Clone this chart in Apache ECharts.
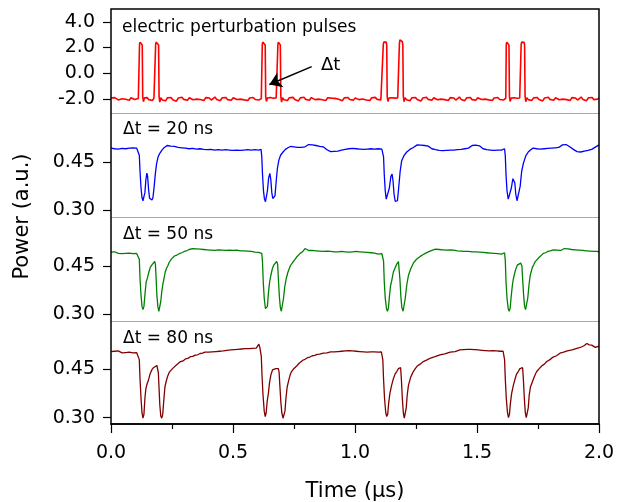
<!DOCTYPE html>
<html>
<head>
<meta charset="utf-8">
<script src="https://cdn.jsdelivr.net/npm/echarts@6/dist/echarts.min.js"></script>
<style>html,body{margin:0;padding:0;background:#fff}#c{width:618px;height:502px}</style>
</head>
<body>
<div id="c"></div>
<script>
// ---------------- DATA ----------------
const panelLabels = ['electric perturbation pulses', '\u0394t = 20 ns', '\u0394t = 50 ns', '\u0394t = 80 ns'];
const arrowLabel = '\u0394t';
const xName = 'Time (\u00b5s)';
const yName = 'Power (a.u.)';
const pulseTicks = [-2, 0, 2, 4];
const powerTicks = [0.30, 0.45];
const colors = ['#ff0000', '#0000ff', '#008000', '#800000'];
const arrowFrom = [0.8225, 0.51];
const arrowTo = [0.649, -0.88];

const pulseData = [
[0,-1.93],[0.008,-2.02],[0.015,-1.90],[0.022,-1.98],[0.030,-2.08],[0.037,-1.94],[0.045,-1.99],[0.052,-1.88],[0.060,-2.03],[0.067,-1.96],[0.075,-2.10],[0.082,-1.92],[0.090,-1.98],[0.097,-2.05],[0.105,-1.93],[0.112,-1.97],
[0.115,-1.95],[0.117,2.25],[0.119,2.42],[0.126,2.42],[0.128,2.2],[0.130,-1.85],[0.133,-2.22],[0.137,-1.92],[0.142,-2.04],[0.148,-1.90],[0.155,-2.06],[0.162,-1.95],[0.170,-2.12],[0.176,-1.94],[0.179,-1.98],
[0.181,-1.95],[0.183,2.25],[0.185,2.42],[0.193,2.40],[0.195,2.2],[0.197,-1.8],[0.200,-2.25],[0.204,-1.90],[0.210,-2.08],[0.217,-1.95],[0.224,-2.15],[0.231,-1.92],[0.238,-2.03],[0.246,-1.89],[0.253,-2.06],[0.261,-1.96],[0.268,-2.18],[0.276,-1.93],[0.283,-2.00],[0.291,-1.87],[0.298,-2.04],[0.306,-1.95],[0.313,-2.10],[0.321,-1.91],[0.328,-1.99],[0.336,-2.07],[0.343,-1.92],[0.351,-2.02],[0.358,-1.88],[0.366,-2.05],[0.373,-1.96],[0.381,-2.13],[0.388,-1.90],[0.396,-2.01],[0.403,-1.93],[0.411,-2.09],[0.418,-1.95],[0.426,-1.86],[0.433,-2.04],[0.441,-1.97],[0.448,-2.14],[0.456,-1.91],[0.463,-2.00],[0.471,-1.89],[0.478,-2.06],[0.486,-1.94],[0.493,-2.11],[0.501,-1.92],[0.508,-1.99],[0.516,-2.05],[0.523,-1.90],[0.531,-2.02],[0.538,-1.87],[0.546,-2.08],[0.553,-1.95],[0.561,-2.12],[0.568,-1.93],[0.576,-2.00],[0.583,-1.89],[0.591,-2.05],[0.598,-1.96],[0.606,-2.09],[0.613,-1.94],[0.616,-1.98],
[0.618,-1.95],[0.620,2.25],[0.622,2.42],[0.630,2.42],[0.632,2.2],[0.634,-1.85],[0.637,-2.2],[0.641,-1.93],[0.647,-2.06],[0.653,-1.90],[0.659,-2.03],[0.665,-1.95],[0.671,-2.10],[0.677,-1.92],[0.681,-1.98],
[0.682,-1.95],[0.684,2.25],[0.686,2.42],[0.692,2.40],[0.694,2.2],[0.696,-1.8],[0.699,-2.25],[0.703,-1.90],[0.709,-2.07],[0.716,-1.94],[0.723,-2.12],[0.731,-1.91],[0.738,-2.02],[0.746,-1.88],[0.753,-2.05],[0.761,-1.95],[0.768,-2.16],[0.776,-1.92],[0.783,-2.00],[0.791,-1.87],[0.798,-2.04],[0.806,-1.94],[0.813,-2.11],[0.821,-1.90],[0.828,-1.99],[0.836,-2.06],[0.843,-1.93],[0.851,-2.02],[0.858,-1.88],[0.866,-2.07],[0.873,-1.95],[0.881,-2.12],[0.888,-1.91],[0.896,-2.01],[0.903,-1.94],[0.911,-2.08],[0.918,-1.96],[0.926,-1.87],[0.933,-2.03],[0.941,-1.97],[0.948,-2.15],[0.956,-1.92],[0.963,-2.00],[0.971,-1.89],[0.978,-2.05],[0.986,-1.95],[0.993,-2.10],[1.001,-1.93],[1.008,-1.99],[1.016,-2.06],[1.023,-1.91],[1.031,-2.01],[1.038,-1.86],[1.046,-2.09],[1.053,-1.95],[1.061,-2.13],[1.068,-1.92],[1.076,-2.00],[1.083,-1.88],[1.091,-2.04],[1.098,-1.96],[1.106,-2.08],[1.112,-1.97],
[1.114,-1.95],[1.116,2.25],[1.118,2.42],[1.128,2.42],[1.130,2.2],[1.132,-1.85],[1.135,-2.2],[1.139,-1.93],[1.145,-2.05],[1.151,-1.91],[1.157,-2.04],[1.163,-1.94],[1.169,-2.09],[1.175,-1.93],[1.179,-1.98],
[1.180,-1.95],[1.182,2.3],[1.184,2.6],[1.186,2.55],[1.194,2.45],[1.196,2.2],[1.198,-1.8],[1.201,-2.22],[1.205,-1.90],[1.211,-2.06],[1.218,-1.95],[1.225,-2.14],[1.233,-1.92],[1.240,-2.02],[1.248,-1.89],[1.255,-2.05],[1.263,-1.96],[1.270,-2.17],[1.278,-1.93],[1.285,-2.00],[1.293,-1.88],[1.300,-2.04],[1.308,-1.95],[1.315,-2.10],[1.323,-1.91],[1.330,-1.99],[1.338,-2.07],[1.345,-1.92],[1.353,-2.02],[1.360,-1.87],[1.368,-2.06],[1.375,-1.96],[1.383,-2.12],[1.390,-1.90],[1.398,-2.01],[1.405,-1.93],[1.413,-2.09],[1.420,-1.95],[1.428,-1.86],[1.435,-2.04],[1.443,-1.97],[1.450,-2.14],[1.458,-1.91],[1.465,-2.00],[1.473,-1.89],[1.480,-2.06],[1.488,-1.94],[1.495,-2.11],[1.503,-1.92],[1.510,-1.99],[1.518,-2.05],[1.525,-1.90],[1.533,-2.02],[1.540,-1.87],[1.548,-2.08],[1.555,-1.95],[1.563,-2.12],[1.570,-1.93],[1.578,-2.00],[1.585,-1.89],[1.593,-2.05],[1.600,-1.96],[1.608,-2.09],[1.615,-1.97],
[1.618,-1.95],[1.620,2.25],[1.622,2.42],[1.629,2.42],[1.631,2.2],[1.633,-1.85],[1.636,-2.2],[1.640,-1.93],[1.646,-2.05],[1.652,-1.91],[1.658,-2.03],[1.664,-1.95],[1.670,-2.10],[1.675,-1.93],[1.678,-1.98],
[1.679,-1.95],[1.681,2.25],[1.683,2.42],[1.693,2.40],[1.695,2.2],[1.697,-1.8],[1.700,-2.22],[1.704,-1.90],[1.710,-2.06],[1.717,-1.95],[1.724,-2.13],[1.732,-1.92],[1.739,-2.02],[1.747,-1.89],[1.754,-2.05],[1.762,-1.96],[1.769,-2.16],[1.777,-1.93],[1.784,-2.00],[1.792,-1.88],[1.799,-2.04],[1.807,-1.95],[1.814,-2.10],[1.822,-1.91],[1.829,-1.99],[1.837,-2.07],[1.844,-1.92],[1.852,-2.02],[1.859,-1.87],[1.867,-2.06],[1.874,-1.96],[1.882,-2.12],[1.889,-1.90],[1.897,-2.01],[1.904,-1.93],[1.912,-2.09],[1.919,-1.95],[1.927,-1.86],[1.934,-2.04],[1.942,-1.97],[1.949,-2.14],[1.957,-1.91],[1.964,-2.00],[1.972,-1.89],[1.979,-2.06],[1.987,-1.94],[1.994,-2.02],[2.000,-1.93]
];

const dt20Data = [
[0.000,0.492],[0.008,0.488],[0.015,0.490],[0.023,0.485],[0.030,0.489],[0.038,0.486],[0.045,0.491],[0.053,0.487],[0.060,0.490],[0.068,0.488],[0.075,0.492],[0.083,0.489],[0.090,0.493],[0.098,0.490],[0.105,0.492],[0.110,0.491],
[0.113,0.490],[0.116,0.470],[0.119,0.420],[0.123,0.370],[0.127,0.340],[0.131,0.330],[0.135,0.333],[0.139,0.355],[0.143,0.395],[0.147,0.415],[0.150,0.405],[0.154,0.365],[0.158,0.338],[0.163,0.333],[0.168,0.332],[0.172,0.340],[0.177,0.375],[0.182,0.415],[0.187,0.445],[0.193,0.465],[0.200,0.476],[0.208,0.485],[0.216,0.492],[0.222,0.497],
[0.230,0.500],[0.237,0.504],[0.245,0.498],[0.252,0.502],[0.260,0.497],[0.268,0.500],[0.275,0.494],[0.283,0.498],[0.290,0.493],[0.298,0.497],[0.305,0.492],[0.313,0.495],[0.320,0.490],[0.328,0.494],[0.335,0.491],[0.343,0.495],[0.350,0.489],[0.358,0.493],[0.365,0.490],[0.373,0.494],[0.380,0.488],[0.388,0.492],[0.395,0.487],[0.403,0.491],[0.410,0.488],[0.418,0.492],[0.425,0.486],[0.433,0.490],[0.440,0.487],[0.448,0.491],[0.455,0.486],[0.463,0.490],[0.470,0.487],[0.478,0.491],[0.485,0.486],[0.493,0.489],[0.500,0.485],[0.508,0.489],[0.515,0.486],[0.523,0.490],[0.530,0.485],[0.538,0.489],[0.545,0.486],[0.553,0.490],[0.560,0.487],[0.568,0.491],[0.575,0.486],[0.583,0.490],[0.590,0.487],[0.598,0.490],[0.605,0.486],[0.612,0.489],
[0.615,0.488],[0.618,0.465],[0.621,0.410],[0.625,0.360],[0.629,0.335],[0.633,0.327],[0.637,0.332],[0.641,0.360],[0.646,0.400],[0.651,0.414],[0.655,0.395],[0.659,0.355],[0.663,0.337],[0.668,0.332],[0.672,0.345],[0.677,0.390],[0.682,0.430],[0.688,0.455],[0.695,0.470],[0.705,0.480],[0.715,0.488],[0.725,0.493],
[0.735,0.497],[0.743,0.500],[0.750,0.496],[0.758,0.499],[0.765,0.494],[0.773,0.491],[0.780,0.494],[0.788,0.490],[0.795,0.496],[0.803,0.500],[0.810,0.503],[0.818,0.507],[0.825,0.502],[0.833,0.505],[0.840,0.500],[0.848,0.503],[0.855,0.497],[0.863,0.494],[0.870,0.496],[0.878,0.490],[0.885,0.487],[0.893,0.484],[0.900,0.481],[0.908,0.479],[0.915,0.482],[0.923,0.478],[0.930,0.483],[0.938,0.481],[0.945,0.486],[0.953,0.483],[0.960,0.488],[0.968,0.485],[0.975,0.490],[0.983,0.487],[0.990,0.491],[0.998,0.486],[1.005,0.490],[1.013,0.487],[1.020,0.489],[1.028,0.484],[1.035,0.488],[1.043,0.485],[1.050,0.489],[1.058,0.486],[1.065,0.490],[1.073,0.485],[1.080,0.489],[1.088,0.486],[1.095,0.490],[1.103,0.486],[1.110,0.489],
[1.114,0.488],[1.117,0.465],[1.120,0.410],[1.124,0.360],[1.128,0.335],[1.132,0.330],[1.136,0.335],[1.141,0.370],[1.147,0.405],[1.152,0.412],[1.156,0.390],[1.160,0.350],[1.165,0.328],[1.170,0.323],[1.174,0.330],[1.179,0.370],[1.185,0.420],[1.191,0.452],[1.200,0.468],[1.212,0.480],[1.225,0.488],[1.239,0.494],
[1.247,0.498],[1.255,0.502],[1.262,0.497],[1.270,0.501],[1.278,0.496],[1.285,0.500],[1.293,0.495],[1.300,0.498],[1.308,0.493],[1.315,0.490],[1.323,0.492],[1.330,0.487],[1.338,0.490],[1.345,0.485],[1.353,0.488],[1.360,0.484],[1.368,0.489],[1.375,0.485],[1.383,0.489],[1.390,0.486],[1.398,0.490],[1.405,0.486],[1.413,0.491],[1.420,0.487],[1.428,0.492],[1.435,0.488],[1.443,0.493],[1.450,0.490],[1.458,0.495],[1.465,0.492],[1.473,0.497],[1.480,0.500],[1.488,0.497],[1.495,0.501],[1.503,0.496],[1.510,0.499],[1.518,0.493],[1.525,0.490],[1.533,0.492],[1.540,0.487],[1.548,0.490],[1.555,0.486],[1.563,0.489],[1.570,0.485],[1.578,0.489],[1.585,0.486],[1.593,0.490],[1.600,0.486],[1.608,0.489],
[1.613,0.490],[1.616,0.468],[1.619,0.410],[1.623,0.360],[1.628,0.335],[1.632,0.331],[1.636,0.336],[1.641,0.370],[1.647,0.398],[1.651,0.403],[1.655,0.385],[1.659,0.350],[1.664,0.330],[1.668,0.326],[1.672,0.335],[1.677,0.375],[1.683,0.420],[1.690,0.445],[1.700,0.468],[1.710,0.480],[1.720,0.487],[1.730,0.492],
[1.738,0.494],[1.745,0.490],[1.753,0.494],[1.760,0.489],[1.768,0.493],[1.775,0.490],[1.783,0.494],[1.790,0.491],[1.798,0.495],[1.805,0.492],[1.813,0.496],[1.820,0.493],[1.828,0.497],[1.835,0.494],[1.843,0.499],[1.850,0.502],[1.858,0.506],[1.865,0.503],[1.873,0.499],[1.880,0.496],[1.888,0.492],[1.895,0.488],[1.903,0.484],[1.910,0.481],[1.918,0.483],[1.925,0.480],[1.933,0.485],[1.940,0.483],[1.948,0.487],[1.955,0.485],[1.963,0.490],[1.970,0.488],[1.978,0.493],[1.985,0.495],[1.993,0.499],[2.000,0.502]
];

const dt50Data = [
[0.000,0.492],[0.008,0.489],[0.015,0.493],[0.023,0.490],[0.030,0.488],[0.038,0.491],[0.045,0.487],[0.053,0.490],[0.060,0.488],[0.068,0.492],[0.075,0.489],[0.083,0.491],[0.090,0.487],[0.098,0.490],[0.105,0.488],[0.110,0.490],
[0.113,0.490],[0.116,0.470],[0.119,0.410],[0.123,0.360],[0.127,0.325],[0.131,0.315],[0.135,0.325],[0.139,0.360],[0.144,0.400],[0.149,0.412],[0.155,0.430],[0.161,0.445],[0.167,0.452],[0.173,0.458],[0.179,0.463],[0.182,0.455],[0.185,0.410],[0.188,0.360],[0.192,0.325],[0.196,0.310],[0.200,0.315],[0.204,0.340],[0.208,0.370],[0.213,0.395],[0.217,0.410],[0.222,0.430],[0.228,0.443],[0.233,0.450],[0.238,0.460],[0.244,0.466],[0.249,0.472],[0.255,0.476],[0.260,0.480],[0.265,0.478],[0.270,0.483],[0.280,0.487],[0.290,0.490],[0.300,0.494],[0.310,0.496],[0.320,0.500],[0.328,0.498],[0.335,0.503],
[0.343,0.499],[0.350,0.502],[0.358,0.498],[0.365,0.501],[0.373,0.497],[0.380,0.500],[0.388,0.496],[0.395,0.499],[0.403,0.495],[0.410,0.498],[0.418,0.494],[0.425,0.497],[0.433,0.495],[0.440,0.499],[0.448,0.496],[0.455,0.498],[0.463,0.494],[0.470,0.497],[0.478,0.495],[0.485,0.498],[0.493,0.494],[0.500,0.497],[0.508,0.495],[0.515,0.498],[0.523,0.494],[0.530,0.496],[0.538,0.493],[0.545,0.496],[0.553,0.492],[0.560,0.495],[0.568,0.491],[0.575,0.494],[0.583,0.490],[0.590,0.492],[0.598,0.488],[0.605,0.491],[0.612,0.487],
[0.618,0.488],[0.621,0.460],[0.624,0.400],[0.628,0.350],[0.633,0.318],[0.637,0.312],[0.641,0.325],[0.645,0.365],[0.650,0.400],[0.655,0.420],[0.661,0.440],[0.667,0.452],[0.673,0.458],[0.679,0.463],[0.683,0.455],[0.686,0.410],[0.690,0.355],[0.694,0.322],[0.698,0.310],[0.702,0.316],[0.707,0.350],[0.712,0.385],[0.718,0.410],[0.725,0.430],[0.730,0.440],[0.735,0.450],[0.741,0.456],[0.747,0.463],[0.753,0.468],[0.760,0.476],[0.767,0.480],[0.775,0.488],[0.785,0.493],[0.795,0.503],
[0.803,0.500],[0.810,0.497],[0.818,0.501],[0.825,0.497],[0.833,0.500],[0.840,0.496],[0.848,0.499],[0.855,0.495],[0.863,0.498],[0.870,0.494],[0.878,0.497],[0.885,0.495],[0.893,0.498],[0.900,0.494],[0.908,0.497],[0.915,0.493],[0.923,0.496],[0.930,0.493],[0.938,0.497],[0.945,0.494],[0.953,0.497],[0.960,0.493],[0.968,0.496],[0.975,0.492],[0.983,0.496],[0.990,0.493],[0.998,0.497],[1.005,0.494],[1.013,0.497],[1.020,0.493],[1.028,0.496],[1.035,0.492],[1.043,0.495],[1.050,0.491],[1.058,0.494],[1.065,0.490],[1.073,0.493],[1.080,0.489],[1.088,0.491],[1.095,0.486],[1.103,0.489],[1.110,0.487],
[1.114,0.490],[1.117,0.465],[1.120,0.400],[1.124,0.350],[1.129,0.318],[1.133,0.310],[1.137,0.320],[1.141,0.355],[1.146,0.390],[1.150,0.402],[1.157,0.430],[1.164,0.443],[1.171,0.455],[1.178,0.463],[1.181,0.458],[1.184,0.410],[1.188,0.355],[1.192,0.322],[1.197,0.310],[1.201,0.315],[1.206,0.350],[1.212,0.390],[1.219,0.420],[1.228,0.440],[1.233,0.446],[1.239,0.458],[1.245,0.462],[1.252,0.470],[1.259,0.473],[1.266,0.478],[1.278,0.484],[1.290,0.489],[1.305,0.494],[1.321,0.499],
[1.330,0.501],[1.338,0.497],[1.345,0.500],[1.353,0.496],[1.360,0.499],[1.368,0.495],[1.375,0.498],[1.383,0.502],[1.390,0.499],[1.398,0.503],[1.405,0.498],[1.413,0.500],[1.420,0.496],[1.428,0.499],[1.435,0.495],[1.443,0.498],[1.450,0.494],[1.458,0.497],[1.465,0.494],[1.473,0.497],[1.480,0.493],[1.488,0.496],[1.495,0.493],[1.503,0.496],[1.510,0.492],[1.518,0.495],[1.525,0.491],[1.533,0.494],[1.540,0.490],[1.548,0.493],[1.555,0.489],[1.563,0.492],[1.570,0.488],[1.578,0.491],[1.585,0.487],[1.593,0.490],[1.600,0.486],[1.608,0.489],
[1.613,0.490],[1.616,0.465],[1.619,0.400],[1.623,0.350],[1.628,0.318],[1.632,0.310],[1.636,0.320],[1.640,0.355],[1.645,0.390],[1.649,0.410],[1.657,0.435],[1.665,0.452],[1.672,0.456],[1.679,0.458],[1.684,0.450],[1.687,0.410],[1.691,0.360],[1.695,0.325],[1.699,0.315],[1.703,0.318],[1.708,0.350],[1.713,0.390],[1.718,0.420],[1.727,0.445],[1.732,0.452],[1.738,0.462],[1.746,0.468],[1.755,0.476],[1.763,0.481],[1.772,0.488],[1.781,0.490],[1.790,0.494],[1.800,0.496],[1.813,0.499],
[1.820,0.502],[1.828,0.498],[1.835,0.501],[1.843,0.497],[1.850,0.500],[1.858,0.503],[1.865,0.499],[1.873,0.502],[1.880,0.497],[1.888,0.500],[1.895,0.496],[1.903,0.499],[1.910,0.495],[1.918,0.498],[1.925,0.494],[1.933,0.497],[1.940,0.493],[1.948,0.496],[1.955,0.492],[1.963,0.495],[1.970,0.491],[1.978,0.494],[1.985,0.491],[1.993,0.494],[2.000,0.492]
];

const dt80Data = [
[0.000,0.505],[0.008,0.502],[0.015,0.506],[0.023,0.503],[0.030,0.507],[0.038,0.504],[0.045,0.501],[0.053,0.505],[0.060,0.502],[0.068,0.506],[0.075,0.503],[0.083,0.505],[0.090,0.501],[0.098,0.504],[0.105,0.502],[0.110,0.505],
[0.113,0.505],[0.116,0.480],[0.119,0.420],[0.123,0.360],[0.127,0.315],[0.131,0.298],[0.135,0.310],[0.139,0.360],[0.143,0.390],[0.148,0.405],[0.153,0.415],[0.160,0.435],[0.167,0.448],[0.174,0.455],[0.181,0.460],[0.188,0.462],[0.191,0.458],[0.194,0.440],[0.197,0.390],[0.200,0.340],[0.204,0.305],[0.208,0.298],[0.212,0.310],[0.216,0.350],[0.221,0.395],[0.226,0.412],[0.232,0.428],[0.240,0.442],[0.246,0.446],[0.252,0.452],[0.260,0.458],[0.268,0.463],[0.276,0.466],[0.285,0.474],[0.295,0.476],[0.305,0.482],[0.315,0.484],[0.325,0.489],[0.335,0.490],[0.345,0.494],[0.355,0.495],[0.365,0.499],[0.375,0.500],[0.385,0.503],[0.392,0.505],
[0.400,0.503],[0.408,0.507],[0.415,0.504],[0.423,0.508],[0.430,0.505],[0.438,0.509],[0.445,0.506],[0.453,0.510],[0.460,0.507],[0.468,0.512],[0.475,0.509],[0.483,0.513],[0.490,0.510],[0.498,0.514],[0.505,0.511],[0.513,0.515],[0.520,0.512],[0.528,0.516],[0.535,0.513],[0.543,0.517],[0.550,0.514],[0.558,0.517],[0.565,0.514],[0.573,0.518],[0.580,0.515],[0.588,0.519],[0.595,0.516],[0.602,0.520],[0.606,0.528],[0.610,0.518],
[0.613,0.520],[0.616,0.490],[0.619,0.430],[0.623,0.370],[0.628,0.320],[0.632,0.303],[0.636,0.315],[0.640,0.350],[0.645,0.375],[0.650,0.410],[0.656,0.435],[0.662,0.448],[0.668,0.452],[0.675,0.452],[0.682,0.452],[0.686,0.452],[0.689,0.440],[0.692,0.400],[0.696,0.350],[0.700,0.315],[0.705,0.298],[0.709,0.298],[0.713,0.320],[0.717,0.360],[0.722,0.395],[0.728,0.415],[0.734,0.432],[0.740,0.443],[0.747,0.450],[0.754,0.456],[0.762,0.461],[0.770,0.468],[0.778,0.472],[0.786,0.478],[0.795,0.481],[0.805,0.486],[0.815,0.488],[0.825,0.492],[0.835,0.493],[0.845,0.496],[0.855,0.497],[0.870,0.500],[0.885,0.501],[0.900,0.504],
[0.908,0.507],[0.915,0.504],[0.923,0.508],[0.930,0.505],[0.938,0.509],[0.945,0.506],[0.953,0.510],[0.960,0.507],[0.968,0.511],[0.975,0.508],[0.983,0.511],[0.990,0.507],[0.998,0.510],[1.005,0.506],[1.013,0.509],[1.020,0.505],[1.028,0.508],[1.035,0.504],[1.043,0.507],[1.050,0.503],[1.058,0.507],[1.065,0.504],[1.073,0.508],[1.080,0.504],[1.088,0.507],[1.095,0.503],[1.103,0.506],[1.108,0.504],
[1.111,0.505],[1.114,0.480],[1.117,0.420],[1.121,0.360],[1.126,0.315],[1.130,0.303],[1.134,0.310],[1.138,0.345],[1.143,0.375],[1.150,0.400],[1.157,0.420],[1.164,0.435],[1.171,0.443],[1.178,0.452],[1.184,0.458],[1.187,0.455],[1.190,0.420],[1.194,0.360],[1.198,0.315],[1.202,0.298],[1.206,0.302],[1.210,0.330],[1.214,0.370],[1.219,0.400],[1.228,0.425],[1.234,0.435],[1.239,0.443],[1.247,0.452],[1.255,0.460],[1.267,0.466],[1.280,0.474],[1.295,0.479],[1.310,0.485],[1.328,0.489],[1.348,0.495],[1.368,0.498],[1.390,0.503],[1.410,0.505],[1.430,0.510],
[1.438,0.507],[1.445,0.511],[1.453,0.508],[1.460,0.512],[1.468,0.509],[1.475,0.512],[1.483,0.508],[1.490,0.511],[1.498,0.507],[1.505,0.510],[1.513,0.506],[1.520,0.509],[1.528,0.505],[1.535,0.508],[1.543,0.504],[1.550,0.507],[1.558,0.504],[1.565,0.508],[1.573,0.504],[1.580,0.507],[1.588,0.503],[1.595,0.506],[1.602,0.504],[1.607,0.506],
[1.610,0.505],[1.613,0.480],[1.616,0.420],[1.620,0.360],[1.625,0.315],[1.629,0.300],[1.633,0.310],[1.637,0.345],[1.642,0.375],[1.649,0.400],[1.656,0.420],[1.662,0.435],[1.669,0.443],[1.676,0.452],[1.683,0.458],[1.687,0.455],[1.690,0.420],[1.694,0.360],[1.698,0.315],[1.702,0.300],[1.706,0.302],[1.710,0.330],[1.714,0.370],[1.719,0.395],[1.724,0.405],[1.734,0.425],[1.740,0.436],[1.745,0.443],[1.755,0.452],[1.765,0.460],[1.776,0.466],[1.786,0.474],[1.799,0.480],[1.812,0.488],[1.826,0.492],[1.840,0.500],[1.855,0.503],[1.870,0.507],[1.890,0.510],[1.909,0.515],[1.920,0.517],[1.930,0.520],[1.940,0.524],[1.950,0.530],[1.960,0.526],[1.970,0.525],[1.978,0.520],[1.985,0.518],[1.993,0.523],[2.000,0.522]
];

// ---------------- LAYOUT ----------------
const FONT = 'DejaVu Sans';
const L = 111, W = 488;
const panelTop = [9, 113, 217, 321];
const panelH = [104, 104, 104, 103];
const seriesData = [pulseData, dt20Data, dt50Data, dt80Data];

const grids = [], xAxes = [], yAxes = [], series = [], titles = [];
for (let i = 0; i < 4; i++) {
  grids.push({ left: L, width: W, top: panelTop[i], height: panelH[i], containLabel: false, outerBoundsMode: 'none' });
  const last = i === 3;
  xAxes.push({
    type: 'value', gridIndex: i, min: 0, max: 2, interval: 0.5,
    axisLine: { show: true, onZero: false, lineStyle: { color: last ? '#000' : '#aaaaaa', width: last ? 1.5 : 1.2 } },
    axisTick: { show: last, inside: false, length: 9, lineStyle: { color: '#000', width: 1.2 } },
    minorTick: { show: last, splitNumber: 2, length: 5, lineStyle: { color: '#000', width: 1.2 } },
    axisLabel: { show: last, margin: 20, fontSize: 19, fontFamily: FONT, color: '#000', formatter: v => v.toFixed(1) },
    splitLine: { show: false },
    name: last ? xName : '', nameLocation: 'middle', nameGap: 57,
    nameTextStyle: { fontSize: 21, fontFamily: FONT, color: '#000' }
  });
  const ticks = i === 0 ? pulseTicks : powerTicks;
  yAxes.push({
    type: 'value', gridIndex: i,
    min: i === 0 ? -3.1 : 0.28, max: i === 0 ? 5.0 : 0.60,
    axisLine: { show: false },
    axisTick: { show: true, inside: false, length: 8, customValues: ticks, lineStyle: { color: '#000', width: 1.2 } },
    axisLabel: { show: true, margin: 16, fontSize: 19, fontFamily: FONT, color: '#000', customValues: ticks,
      formatter: v => i === 0 ? v.toFixed(1) : v.toFixed(2) },
    splitLine: { show: false }
  });
  series.push({
    type: 'line', xAxisIndex: i, yAxisIndex: i, data: seriesData[i],
    showSymbol: false, symbol: 'none', clip: true, animation: false,
    lineStyle: { color: colors[i], width: i === 0 ? 1.6 : 1.3 }, z: 3
  });
}
// annotation arrow for Δt, drawn in data coordinates of the top panel
series.push({
  type: 'lines', coordinateSystem: 'cartesian2d', xAxisIndex: 0, yAxisIndex: 0, z: 6,
  silent: true, animation: false,
  symbol: ['none', 'arrow'], symbolSize: 12,
  lineStyle: { color: '#000', width: 1.5, opacity: 1, curveness: 0 },
  itemStyle: { color: '#000' },
  data: [{ coords: [arrowFrom, arrowTo] }]
});
// frame grid covering all panels (outer black box + shared y-axis name)
grids.push({ left: L, width: W, top: 9, height: 415, show: true, borderColor: '#000', borderWidth: 1.5, backgroundColor: 'transparent', z: 5, outerBoundsMode: 'none' });
xAxes.push({ type: 'value', gridIndex: 4, show: false, min: 0, max: 2 });
yAxes.push({
  type: 'value', gridIndex: 4, min: 0, max: 1,
  axisLine: { show: false }, axisTick: { show: false }, axisLabel: { show: false }, splitLine: { show: false },
  name: yName, nameLocation: 'middle', nameGap: 78, nameRotate: 90,
  nameTextStyle: { fontSize: 21, fontFamily: FONT, color: '#000' }
});

const labelTops = [19, 121, 226, 330];
const labelLefts = [122, 123, 123, 123];
for (let i = 0; i < 4; i++) {
  titles.push({ text: panelLabels[i], left: labelLefts[i], top: labelTops[i], padding: 0,
    textStyle: { fontSize: 17, fontWeight: 'normal', fontFamily: FONT, color: '#000' } });
}
titles.push({ text: arrowLabel, left: 321, top: 56, padding: 0,
  textStyle: { fontSize: 18, fontWeight: 'normal', fontFamily: FONT, color: '#000' } });

const chart = echarts.init(document.getElementById('c'), null, { renderer: 'canvas' });
chart.setOption({
  backgroundColor: '#fff',
  animation: false,
  title: titles,
  grid: grids,
  xAxis: xAxes,
  yAxis: yAxes,
  series: series
});
</script>
</body>
</html>
